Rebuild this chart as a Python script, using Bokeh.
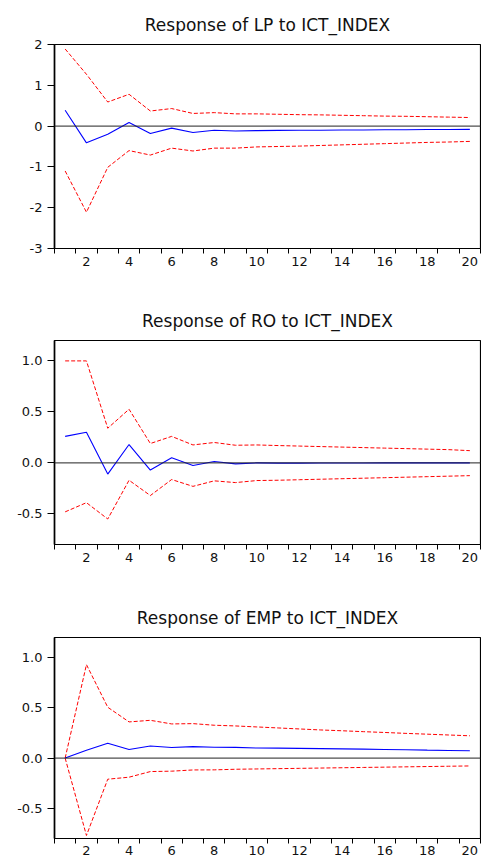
from bokeh.plotting import figure
from bokeh.layouts import column
from bokeh.models import Range1d, FixedTicker, Span, PrintfTickFormatter
from bokeh.embed import file_html
from bokeh.resources import INLINE

# ---------------- data ----------------
periods = list(range(1, 21))
x_tick_labels = [2, 4, 6, 8, 10, 12, 14, 16, 18, 20]
x_minor = [k + 0.5 for k in range(0, 21)]

lp_titles = "Response of LP to ICT_INDEX"
lp_resp = [0.39, -0.41, -0.20, 0.09, -0.18, -0.05, -0.155, -0.10, -0.12, -0.11,
           -0.105, -0.10, -0.10, -0.095, -0.095, -0.09, -0.09, -0.085, -0.085, -0.08]
lp_upper = [1.89, 1.27, 0.59, 0.78, 0.37, 0.43, 0.31, 0.33, 0.30, 0.30,
            0.29, 0.28, 0.275, 0.265, 0.255, 0.245, 0.24, 0.23, 0.22, 0.21]
lp_lower = [-1.10, -2.11, -1.01, -0.60, -0.71, -0.54, -0.61, -0.54, -0.54, -0.51,
            -0.50, -0.49, -0.475, -0.46, -0.445, -0.43, -0.415, -0.40, -0.39, -0.375]
lp_yticks = [-3, -2, -1, 0, 1, 2]

ro_title = "Response of RO to ICT_INDEX"
ro_resp = [0.26, 0.30, -0.11, 0.18, -0.07, 0.05, -0.026, 0.013, -0.01, 0.0,
           -0.002, -0.002, -0.001, -0.001, -0.001, 0.0, 0.0, 0.0, 0.0, 0.0]
ro_upper = [1.0, 1.0, 0.34, 0.526, 0.19, 0.26, 0.176, 0.20, 0.173, 0.176,
            0.17, 0.165, 0.16, 0.155, 0.15, 0.145, 0.14, 0.135, 0.13, 0.12]
ro_lower = [-0.48, -0.39, -0.55, -0.17, -0.32, -0.163, -0.23, -0.176, -0.193, -0.173,
            -0.17, -0.165, -0.16, -0.155, -0.15, -0.145, -0.14, -0.135, -0.13, -0.125]
ro_yticks = [-0.5, 0.0, 0.5, 1.0]

emp_title = "Response of EMP to ICT_INDEX"
emp_resp = [0.0, 0.078, 0.147, 0.085, 0.12, 0.105, 0.114, 0.108, 0.107, 0.10,
            0.099, 0.097, 0.094, 0.092, 0.089, 0.086, 0.083, 0.079, 0.076, 0.073]
emp_upper = [0.0, 0.93, 0.506, 0.36, 0.376, 0.34, 0.343, 0.327, 0.32, 0.31,
             0.30, 0.29, 0.28, 0.272, 0.263, 0.255, 0.246, 0.238, 0.23, 0.222]
emp_lower = [0.0, -0.77, -0.21, -0.19, -0.134, -0.13, -0.118, -0.117, -0.111, -0.108,
             -0.105, -0.102, -0.099, -0.096, -0.093, -0.09, -0.087, -0.084, -0.081, -0.078]
emp_yticks = [-0.5, 0.0, 0.5, 1.0]

FONT = "DejaVu Sans"


def make_panel(title, resp, upper, lower, y_range, y_ticks, fmt,
               height, border_top, border_bottom, label_standoff=3):
    p = figure(width=481, height=height, output_backend="svg",
               toolbar_location=None, x_range=Range1d(0.5, 20.5),
               y_range=Range1d(*y_range), title=title,
               min_border_left=54, min_border_right=1,
               min_border_top=border_top, min_border_bottom=border_bottom)
    p.title.text_font = FONT
    p.title.text_font_size = "17px"
    p.title.text_font_style = "normal"
    p.title.text_color = "#111111"
    p.title.align = "center"
    p.title.standoff = 20

    p.xgrid.visible = False
    p.ygrid.visible = False
    p.outline_line_color = "black"
    p.outline_line_width = 1.2
    p.background_fill_color = "white"
    p.border_fill_color = "white"

    xa = p.xaxis[0]
    xa.ticker = FixedTicker(ticks=x_tick_labels, minor_ticks=x_minor)
    xa.major_tick_line_color = None
    xa.major_tick_out = 5
    xa.major_tick_in = 0
    xa.minor_tick_line_color = "black"
    xa.minor_tick_out = 5
    xa.minor_tick_in = 0
    xa.major_label_standoff = label_standoff
    xa.axis_line_color = "black"
    xa.axis_line_width = 1.2
    xa.major_label_text_font = FONT
    xa.major_label_text_font_size = "13px"
    xa.major_label_text_color = "#111111"

    ya = p.yaxis[0]
    ya.ticker = FixedTicker(ticks=y_ticks, minor_ticks=[])
    ya.formatter = PrintfTickFormatter(format=fmt)
    ya.major_tick_out = 7
    ya.major_tick_in = 0
    ya.major_tick_line_color = "black"
    ya.minor_tick_line_color = None
    ya.major_label_standoff = 5
    ya.axis_line_color = "black"
    ya.axis_line_width = 1.6
    ya.major_label_text_font = FONT
    ya.major_label_text_font_size = "13px"
    ya.major_label_text_color = "#111111"

    p.add_layout(Span(location=0, dimension="width", line_color="#222222",
                      line_width=1))

    p.line(periods, upper, line_color="#FF0000", line_width=1, line_dash="4 2")
    p.line(periods, lower, line_color="#FF0000", line_width=1, line_dash="4 2")
    p.line(periods, resp, line_color="#0000FF", line_width=1.1)
    return p


p1 = make_panel(lp_titles, lp_resp, lp_upper, lp_lower, (-3, 2), lp_yticks, "%d",
                296, 44, 48)
p2 = make_panel(ro_title, ro_resp, ro_upper, ro_lower, (-0.8, 1.2), ro_yticks, "%.1f",
                297, 44, 49)
p3 = make_panel(emp_title, emp_resp, emp_upper, emp_lower, (-0.8, 1.2), emp_yticks, "%.1f",
                266, 44, 21, label_standoff=2)

layout = column(p1, p2, p3, spacing=0)

open("out.html", "w").write(file_html(layout, INLINE))
